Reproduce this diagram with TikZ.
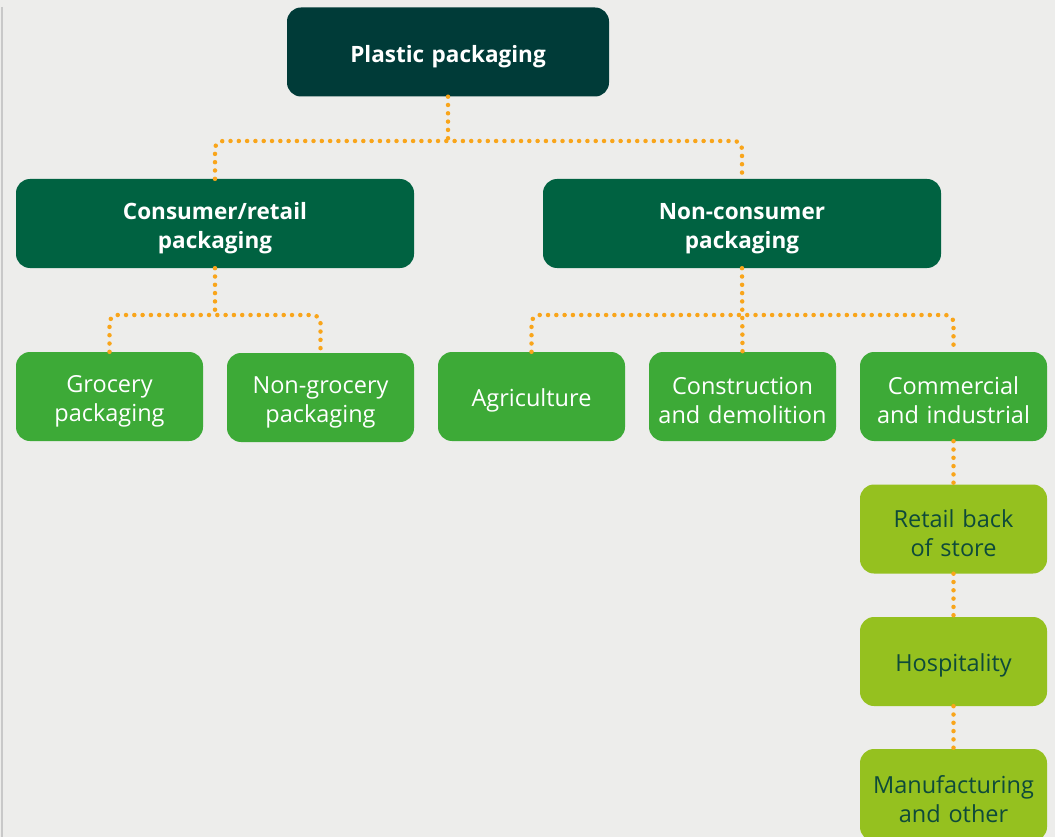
\documentclass[tikz,border=0pt]{standalone}
\usepackage{fontspec}
\setmainfont{Open Sans}
\definecolor{pagebg}{HTML}{EDEDEB}
\definecolor{darkteal}{HTML}{003B38}
\definecolor{midgreen}{HTML}{006241}
\definecolor{leafgreen}{HTML}{3DAA37}
\definecolor{limegreen}{HTML}{95C11F}
\definecolor{inkgreen}{HTML}{0E4A3A}
\definecolor{dotorange}{HTML}{F9A51A}
\definecolor{rulegray}{HTML}{C8C8C8}

\tikzset{
  box/.style={rounded corners=14pt, minimum width=187pt, minimum height=89pt,
    inner sep=0pt, align=center, text width=184pt,
    execute at begin node={\rule{0pt}{26pt}},
    font=\fontsize{23.5}{29}\selectfont},
  headbox/.style={box, fill=darkteal, text=white, minimum width=322pt,
    text width=300pt, font=\fontsize{22.5}{29}\selectfont\bfseries},
  groupbox/.style={box, fill=midgreen, text=white, minimum width=398pt,
    text width=380pt, font=\fontsize{22.5}{29}\selectfont\bfseries},
  sectorbox/.style={box, fill=leafgreen, text=white},
  subbox/.style={box, fill=limegreen, text=inkgreen},
  link/.style={draw=dotorange, line width=4.5pt, line cap=round,
    dash pattern=on 0pt off 8.3pt, rounded corners=8pt}
}

\begin{document}
\begin{tikzpicture}[x=1pt,y=-1pt]
  \clip (0,0) rectangle (1055,837);
  \fill[pagebg] (0,0) rectangle (1055,837);
  \draw[rulegray, line width=1.5pt] (2,7) -- (2,837);

  % top and second level
  \node[headbox] (plastic) at (448,52) {Plastic packaging};
  \node[groupbox] (consumer) at (215,223.5) {Consumer/retail\\packaging};
  \node[groupbox] (noncons) at (742,223.5) {Non-consumer\\packaging};

  % third level
  \node[sectorbox] (grocery) at (109.5,396.5) {Grocery\\packaging};
  \node[sectorbox] (nongrocery) at (320.5,397.5) {Non-grocery\\packaging};
  \node[sectorbox] (agri) at (531.5,396.5) {Agriculture};
  \node[sectorbox] (constr) at (742.5,396.5) {Construction\\and demolition};
  \node[sectorbox] (commerce) at (953.5,396.5) {Commercial\\and industrial};

  % commercial breakdown
  \node[subbox] (retail) at (953.5,529) {Retail back\\of store};
  \node[subbox] (hosp) at (953.5,661.5) {Hospitality};
  \node[subbox, minimum height=92pt] (manuf) at (953.5,795) {Manufacturing\\and other};

  % connectors
  \coordinate (j1) at (448,141);
  \coordinate (j2) at (215,315);
  \coordinate (j3) at (742,315);
  \draw[link] (plastic.south) -- (j1);
  \draw[link] (consumer.north) |- (j1) -| (noncons.north);
  \draw[link] (consumer.south) -- (j2);
  \draw[link] (grocery.north) |- (j2) -| (nongrocery.north);
  \draw[link] (noncons.south) -- (constr.north);
  \draw[link] (agri.north) |- (j3) -| (commerce.north);
  \draw[link] (commerce.south) -- (retail.north);
  \draw[link] (retail.south) -- (hosp.north);
  \draw[link] (hosp.south) -- (manuf.north);
\end{tikzpicture}
\end{document}
